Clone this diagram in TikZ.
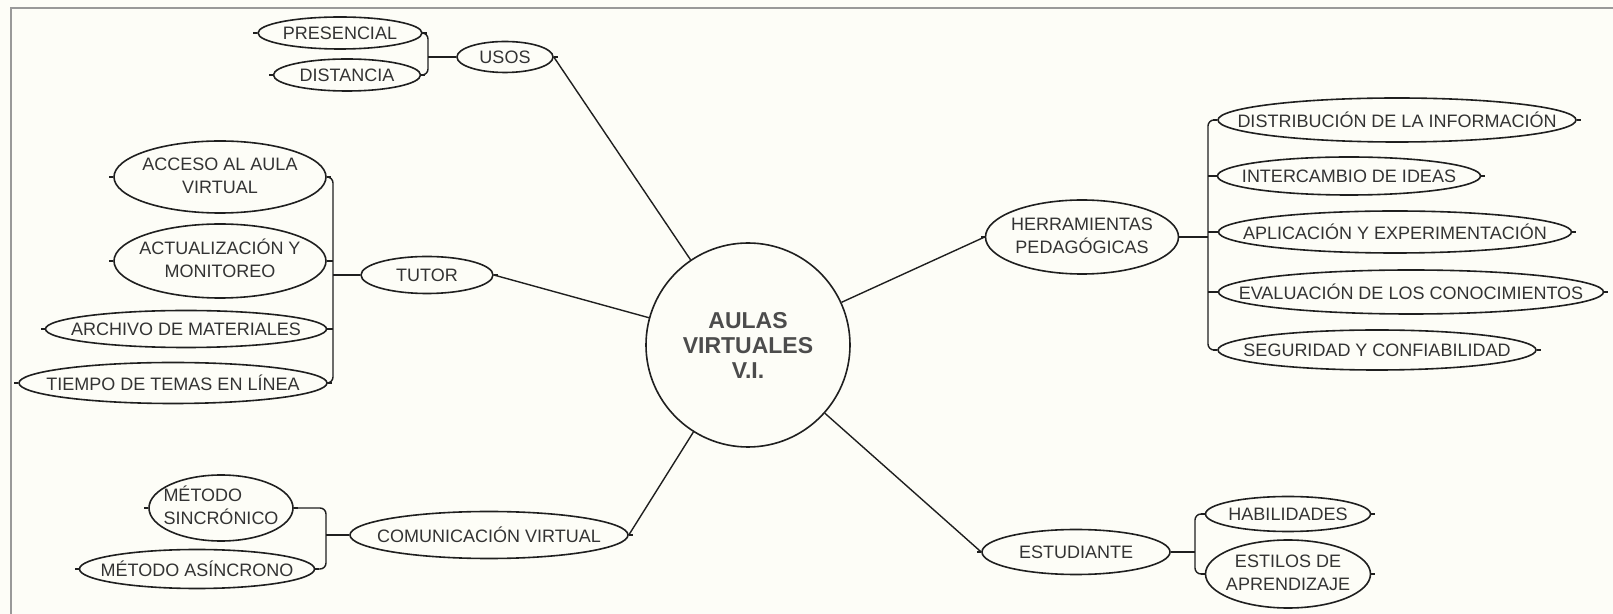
\documentclass[tikz,border=0pt]{standalone}
\usepackage{fontspec}
\setmainfont{Liberation Sans}
\usepackage{xcolor}
\usepackage{tikz}
\usetikzlibrary{shapes.geometric,
                positioning,
                calc}
\definecolor[named]{mapink}{rgb}{0.2,0.2,0.2}
\definecolor[named]{mapline}{rgb}{0.12,0.12,0.12}
\definecolor[named]{mapframe}{rgb}{0.6,0.6,0.6}
\definecolor[named]{mapback}{rgb}{0.992,0.992,0.969}
\newcommand{\oneline}[1]{\makebox[0pt]{#1}}
\newcommand{\twolines}[3][c]{\makebox[0pt]{\begin{tabular}{@{}#1@{}}#2\\#3\end{tabular}}}

\begin{document}
\begin{tikzpicture}
       [x=0.5pt,y=-0.5pt,
        leaf/.style={shape=ellipse,draw=mapline,line width=0.8pt,
                     inner sep=0pt,text=mapink,
                     font=\fontsize{9}{11.5}\selectfont,
                     append after command={(\tikzlastnode.west) edge[draw=mapline,line width=0.8pt] ++(-2pt,0pt)
                                           (\tikzlastnode.east) edge[draw=mapline,line width=0.8pt] ++(2pt,0pt)}},
        dims/.style 2 args={minimum width=#1*0.5pt,minimum height=#2*0.5pt},
        hub/.style={shape=circle,draw=mapline,line width=0.8pt,
                    minimum size=102pt,inner sep=0pt,align=center,
                    text=black!70,font=\fontsize{11.5}{12.5}\selectfont\bfseries},
        link/.style={draw=mapline,line width=0.7pt},
        brace/.style={draw=mapline,line width=0.7pt,rounded corners=3pt}]
       \fill[mapback] (0,0) rectangle (1613,614);
       \useasboundingbox (0,0) rectangle (1613,614);
       \draw[mapframe,line width=1pt] (11,614) -- (11,8) -- (1613,8);

       \node[hub] (aula) at (748,345) {AULAS\\VIRTUALES\\V.I.};

       \node[leaf,dims={96}{31}] (usos) at (505,57) {\oneline{USOS}};
       \node[leaf,dims={164}{32}] (presencial) at (340,33) {\oneline{PRESENCIAL}};
       \node[leaf,dims={147}{32}] (distancia) at (347,75) {\oneline{DISTANCIA}};

       \node[leaf,dims={132}{37}] (tutor) at (427,275) {\oneline{TUTOR}};
       \node[leaf,dims={212}{72}] (acceso) at (220,177) {\twolines{ACCESO AL AULA}{VIRTUAL}};
       \node[leaf,dims={212}{74}] (actual) at (220,261) {\twolines{ACTUALIZACIÓN Y}{MONITOREO}};
       \node[leaf,dims={281}{37}] (archivo) at (186,329) {\oneline{ARCHIVO DE MATERIALES}};
       \node[leaf,dims={308}{41}] (tiempo) at (173,383) {\oneline{TIEMPO DE TEMAS EN LÍNEA}};

       \node[leaf,dims={278}{47}] (comunic) at (489,535) {\oneline{COMUNICACIÓN VIRTUAL}};
       \node[leaf,dims={144}{66}] (sincro) at (221,508) {\twolines[l]{MÉTODO}{SINCRÓNICO}};
       \node[leaf,dims={235}{39}] (asincro) at (197,569) {\oneline{MÉTODO ASÍNCRONO}};

       \node[leaf,dims={193}{74}] (herram) at (1082,237) {\twolines{HERRAMIENTAS}{PEDAGÓGICAS}};
       \node[leaf,dims={358}{44}] (distrib) at (1397,120) {\oneline{DISTRIBUCIÓN DE LA INFORMACIÓN}};
       \node[leaf,dims={263}{38}] (intercambio) at (1349,176) {\oneline{INTERCAMBIO DE IDEAS}};
       \node[leaf,dims={353}{42}] (aplicacion) at (1395,232) {\oneline{APLICACIÓN Y EXPERIMENTACIÓN}};
       \node[leaf,dims={385}{44}] (evaluacion) at (1411,292) {\oneline{EVALUACIÓN DE LOS CONOCIMIENTOS}};
       \node[leaf,dims={318}{40}] (seguridad) at (1377,350) {\oneline{SEGURIDAD Y CONFIABILIDAD}};

       \node[leaf,dims={188}{45}] (estudiante) at (1076,552) {\oneline{ESTUDIANTE}};
       \node[leaf,dims={165}{35}] (habilidades) at (1288,514) {\oneline{HABILIDADES}};
       \node[leaf,dims={165}{68}] (estilos) at (1288,574) {\twolines{ESTILOS DE}{APRENDIZAJE}};

       \coordinate (usosbar) at (428,57);
       \coordinate (tutorbar) at (333,275);
       \coordinate (combar) at (326,535);
       \coordinate (herrbar) at (1208,237);
       \coordinate (estbar) at (1195,552);

       \draw[brace] (presencial.east) -| (usosbar) |- (distancia.east);
       \draw[link] (usosbar) -- (usos.west);

       \draw[brace] (acceso.east) -| (tutorbar) |- (tiempo.east);
       \foreach \kid in {actual,archivo}
          \draw[brace] (\kid.east) -- (\kid.east -| tutorbar);
       \draw[link] (tutorbar) -- (tutor.west);

       \draw[brace] (sincro.east) -| (combar) |- (asincro.east);
       \draw[link] (combar) -- (comunic.west);

       \draw[brace] (distrib.west) -| (herrbar) |- (seguridad.west);
       \foreach \kid in {intercambio,aplicacion,evaluacion}
          \draw[brace] (\kid.west) -- (\kid.west -| herrbar);
       \draw[link] (herram.east) -- (herrbar);

       \draw[brace] (habilidades.west) -| (estbar) |- (estilos.west);
       \draw[link] (estudiante.east) -- (estbar);

       \draw[link] (usos.east) -- (aula);
       \draw[link] (tutor.east) -- (aula);
       \draw[link] (comunic.east) -- (aula);
       \draw[link] (herram.west) -- (aula);
       \draw[link] (estudiante.west) -- (aula);
\end{tikzpicture}
\end{document}
